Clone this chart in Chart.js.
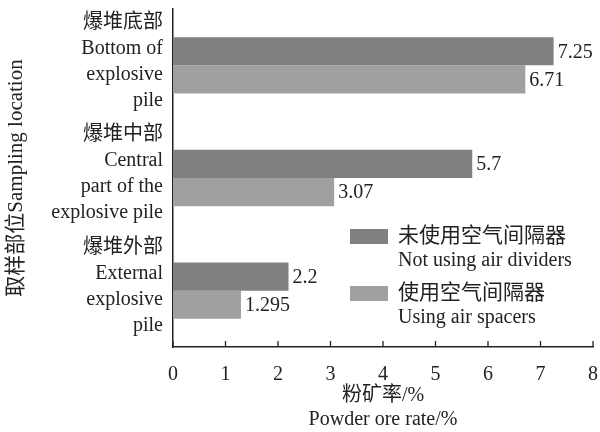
<!DOCTYPE html>
<html>
<head>
<meta charset="utf-8">
<script src="https://cdn.jsdelivr.net/npm/chart.js@4.4.0/dist/chart.umd.min.js"></script>
<style>
  html, body { margin: 0; padding: 0; background: #fff; }
  #wrap { width: 600px; height: 432px; }
</style>
</head>
<body>
<div id="wrap"><canvas id="chart"></canvas></div>
<script>
// sampling locations (Chinese line first, then English)
const categories = [
    ['爆堆底部', 'Bottom of', 'explosive', 'pile'],
    ['爆堆中部', 'Central', 'part of the', 'explosive pile'],
    ['爆堆外部', 'External', 'explosive', 'pile']
];
const seriesNames = [
    ['未使用空气间隔器', 'Not using air dividers'],
    ['使用空气间隔器', 'Using air spacers']
];
const noSpacerRate = [7.25, 5.7, 2.2];
const spacerRate = [6.71, 3.07, 1.295];
const xMin = 0, xMax = 8, xStep = 1;

const FONT = "'Liberation Serif', 'Noto Sans CJK SC', serif";
const INK = '#222';
const colors = ['#808080', '#a0a0a0'];

// value text at the end of each bar
const valueLabels = {
    id: 'valueLabels',
    afterDatasetsDraw(chart) {
        const ctx = chart.ctx;
        ctx.save();
        ctx.font = '20px ' + FONT;
        ctx.fillStyle = INK;
        ctx.textAlign = 'left';
        ctx.textBaseline = 'middle';
        chart.data.datasets.forEach((ds, i) => {
            chart.getDatasetMeta(i).data.forEach((bar, j) => {
                ctx.fillText(String(ds.data[j]), bar.x + 4, bar.y + 1);
            });
        });
        ctx.restore();
    }
};

// x ticks pointing into the plot
const innerTicks = {
    id: 'innerTicks',
    afterDraw(chart) {
        const x = chart.scales.x;
        const ctx = chart.ctx;
        const bottom = chart.chartArea.bottom;
        ctx.save();
        ctx.strokeStyle = INK;
        ctx.lineWidth = 1.3;
        x.ticks.forEach(t => {
            const px = x.getPixelForValue(t.value);
            ctx.beginPath();
            ctx.moveTo(px, bottom);
            ctx.lineTo(px, bottom - 6);
            ctx.stroke();
        });
        ctx.restore();
    }
};

// legend inside the plot, two lines per entry
const boxLegend = {
    id: 'boxLegend',
    afterDraw(chart) {
        const ctx = chart.ctx;
        ctx.save();
        ctx.textBaseline = 'middle';
        ctx.textAlign = 'left';
        chart.data.datasets.forEach((ds, i) => {
            const top = 229 + i * 57;
            ctx.fillStyle = ds.backgroundColor;
            ctx.fillRect(350, top, 38, 15);
            ctx.fillStyle = INK;
            ctx.font = '21px ' + FONT;
            ctx.fillText(seriesNames[i][0], 398, top + 7);
            ctx.font = '20px ' + FONT;
            ctx.fillText(seriesNames[i][1], 398, top + 32);
        });
        ctx.restore();
    }
};

new Chart(document.getElementById('chart'), {
    type: 'bar',
    data: {
        labels: categories,
        datasets: [
            { label: seriesNames[0].join(' '), data: noSpacerRate, backgroundColor: colors[0] },
            { label: seriesNames[1].join(' '), data: spacerRate, backgroundColor: colors[1] }
        ]
    },
    options: {
        indexAxis: 'y',
        responsive: true,
        maintainAspectRatio: false,
        animation: false,
        categoryPercentage: 0.5,
        barPercentage: 1.0,
        layout: { padding: { top: 9, right: 7, left: 0, bottom: 0 } },
        plugins: {
            legend: { display: false },
            tooltip: { enabled: false }
        },
        scales: {
            x: {
                min: xMin,
                max: xMax,
                grid: { display: false, drawTicks: false },
                border: { display: true, color: INK, width: 1.5 },
                ticks: {
                    stepSize: xStep,
                    padding: 16,
                    color: INK,
                    font: { family: FONT, size: 20 }
                },
                title: {
                    display: true,
                    text: ['粉矿率/%', 'Powder ore rate/%'],
                    color: INK,
                    font: { family: FONT, size: 20, lineHeight: 1.2 },
                    padding: { top: 0, bottom: 0 }
                },
                afterFit(scale) {
                    scale.height = 85;
                    scale.paddingLeft = 0;
                    scale.paddingRight = 0;
                }
            },
            y: {
                grid: { display: false, drawTicks: false },
                border: { display: true, color: INK, width: 1.5 },
                ticks: {
                    autoSkip: false,
                    padding: 10,
                    labelOffset: -4,
                    color: INK,
                    font: { family: FONT, size: 20, lineHeight: 1.3 }
                },
                title: {
                    display: true,
                    text: '取样部位Sampling location',
                    color: INK,
                    font: { family: FONT, size: 21 },
                    padding: { top: 4, bottom: 0 }
                },
                afterFit(scale) {
                    scale.width = 173;
                    scale.paddingTop = 0;
                    scale.paddingBottom = 0;
                }
            }
        }
    },
    plugins: [valueLabels, innerTicks, boxLegend]
});
</script>
</body>
</html>
